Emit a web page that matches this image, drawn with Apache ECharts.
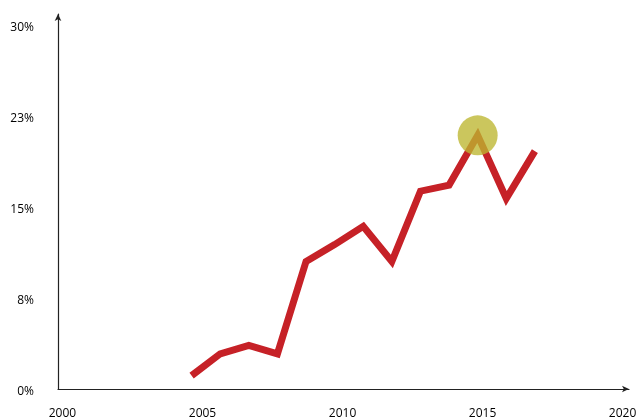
<!DOCTYPE html>
<html>
<head>
<meta charset="utf-8">
<script src="https://cdn.jsdelivr.net/npm/echarts@6/dist/echarts.min.js"></script>
<style>html,body{margin:0;padding:0;background:#fff}#c{width:639px;height:417px}</style>
</head>
<body>
<div id="c"></div>
<script>
var years = [2005, 2006, 2007, 2008, 2009, 2010, 2011, 2012, 2013, 2014, 2015, 2016, 2017];
var values = [1.1, 2.9, 3.6, 2.9, 10.5, 11.9, 13.4, 10.5, 16.3, 16.8, 20.9, 15.7, 19.6];
var highlightYear = 2015;
var xTickLabels = [2000, 2005, 2010, 2015, 2020];
var yTickValues = [0, 7.5, 15, 22.5, 30];

var lineData = years.map(function (y, i) { return [y, values[i]]; });
var hlData = [[highlightYear, values[years.indexOf(highlightYear)]]];

var chart = echarts.init(document.getElementById('c'), null, {renderer: 'canvas'});
var font = '"Open Sans", "Noto Sans", sans-serif';
chart.setOption({
  animation: false,
  backgroundColor: '#ffffff',
  grid: {left: 58, right: 10, top: 14, bottom: 28, containLabel: false, outerBoundsMode: 'none'},
  xAxis: [
    {
      type: 'value', min: 2000.33, max: 2020.29,
      axisLine: {show: true, symbol: ['none', 'arrow'], symbolSize: [5, 7], lineStyle: {color: '#222', width: 1.2}},
      axisTick: {show: false}, axisLabel: {show: false}, splitLine: {show: false}
    },
    {
      type: 'value', min: 1999.84, max: 2020.23, position: 'bottom',
      axisLine: {show: false}, axisTick: {show: false}, splitLine: {show: false},
      axisLabel: {
        show: true, customValues: xTickLabels, margin: 19,
        color: '#000', fontSize: 12, fontWeight: 500, fontFamily: font,
        formatter: function (v) { return String(Math.round(v)); }
      }
    }
  ],
  yAxis: {
    type: 'value', min: 0, max: 30.9,
    axisLine: {show: true, symbol: ['none', 'arrow'], symbolSize: [5, 7], lineStyle: {color: '#222', width: 1.2}},
    axisTick: {show: false}, splitLine: {show: false},
    axisLabel: {
      show: true, customValues: yTickValues, margin: 24,
      color: '#000', fontSize: 12, fontWeight: 500, fontFamily: font,
      verticalAlign: 'top', lineHeight: 6,
      formatter: function (v) { return Math.round(v) + '%'; }
    }
  },
  series: [
    {
      type: 'line', xAxisIndex: 0, data: lineData, symbol: 'none',
      lineStyle: {color: '#c62127', width: 7, cap: 'butt', join: 'miter'}
    },
    {
      type: 'scatter', xAxisIndex: 0, data: hlData, symbolSize: 40, z: 5,
      itemStyle: {color: '#bcb630', opacity: 0.78}
    }
  ]
});
</script>
</body>
</html>
